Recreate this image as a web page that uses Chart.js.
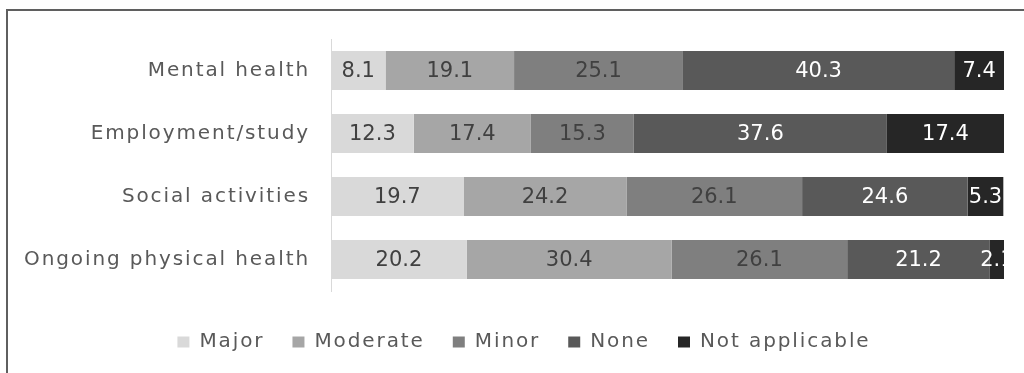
<!DOCTYPE html>
<html>
<head>
<meta charset="utf-8">
<script src="https://cdn.jsdelivr.net/npm/chart.js@4"></script>
<style>
    html, body { margin: 0; padding: 0; background: #fff; overflow: hidden; }
    #wrap { position: relative; width: 1024px; height: 373px; }
    #frame { position: absolute; left: 6px; top: 9px; width: 1100px; height: 500px;
             border-left: 2px solid #5f5f5f; border-top: 2px solid #5f5f5f; }
    canvas { position: absolute; left: 0; top: 0; }
</style>
</head>
<body>
<div id="wrap">
    <div id="frame"></div>
    <canvas id="impactChart" width="1024" height="373"></canvas>
</div>
<script>
const categories = ['Mental health', 'Employment/study', 'Social activities', 'Ongoing physical health'];
const major = [8.1, 12.3, 19.7, 20.2];
const moderate = [19.1, 17.4, 24.2, 30.4];
const minor = [25.1, 15.3, 26.1, 26.1];
const none = [40.3, 37.6, 24.6, 21.2];
const notApplicable = [7.4, 17.4, 5.3, 2.1];

const FONT = 'DejaVu Sans';
const TEXT_SPACING = '1.9px';

const series = [
    { label: 'Major', data: major, color: '#d9d9d9', text: '#404040' },
    { label: 'Moderate', data: moderate, color: '#a6a6a6', text: '#404040' },
    { label: 'Minor', data: minor, color: '#7f7f7f', text: '#404040' },
    { label: 'None', data: none, color: '#595959', text: '#ffffff' },
    { label: 'Not applicable', data: notApplicable, color: '#262626', text: '#ffffff' }
];

// wide, airy lettering for axis and legend text
const spacing = {
    id: 'spacing',
    beforeDraw(chart) {
        chart.ctx.letterSpacing = TEXT_SPACING;
    }
};

// writes each segment's value in the middle of the segment
const segmentLabels = {
    id: 'segmentLabels',
    afterDatasetsDraw(chart) {
        const ctx = chart.ctx;
        ctx.save();
        ctx.letterSpacing = '0px';
        ctx.font = '21px "' + FONT + '"';
        ctx.textAlign = 'center';
        ctx.textBaseline = 'middle';
        chart.data.datasets.forEach((ds, i) => {
            chart.getDatasetMeta(i).data.forEach((bar, j) => {
                const p = bar.getCenterPoint();
                ctx.fillStyle = series[i].text;
                ctx.fillText(ds.data[j].toFixed(1), p.x, p.y + 1);
            });
        });
        ctx.restore();
    }
};

// fixed legend height below the plot, legend nudged right under the bars
const legendBox = {
    id: 'legendBox',
    beforeInit(chart) {
        const legend = chart.legend;
        const fit = legend.fit;
        const draw = legend.draw;
        legend.fit = function () {
            this.ctx.letterSpacing = TEXT_SPACING;
            fit.call(this);
            this.height = 76;
        };
        legend.draw = function () {
            this.ctx.save();
            this.ctx.translate(22, 0);
            draw.call(this);
            this.ctx.restore();
        };
    }
};

new Chart(document.getElementById('impactChart'), {
    type: 'bar',
    data: {
        labels: categories,
        datasets: series.map(s => ({
            label: s.label,
            data: s.data,
            backgroundColor: s.color,
            borderWidth: 0,
            barPercentage: 0.62,
            categoryPercentage: 1
        }))
    },
    options: {
        indexAxis: 'y',
        responsive: false,
        animation: false,
        layout: { padding: { top: 39, right: 20, left: 0, bottom: -7 } },
        scales: {
            x: {
                stacked: true,
                min: 0,
                max: 100,
                grid: { display: false, drawTicks: false },
                border: { display: false },
                ticks: { display: false },
                afterFit(scale) { scale.height = 13; }
            },
            y: {
                stacked: true,
                grid: { display: false, drawTicks: false },
                border: { display: true, color: '#d9d9d9', width: 1 },
                ticks: {
                    padding: 21,
                    color: '#595959',
                    font: { family: FONT, size: 20 }
                },
                afterFit(scale) { scale.width = 331; }
            }
        },
        plugins: {
            tooltip: { enabled: false },
            legend: {
                position: 'bottom',
                labels: {
                    boxWidth: 12,
                    boxHeight: 11,
                    padding: 28,
                    color: '#595959',
                    font: { family: FONT, size: 20 }
                }
            }
        }
    },
    plugins: [spacing, segmentLabels, legendBox]
});
</script>
</body>
</html>
